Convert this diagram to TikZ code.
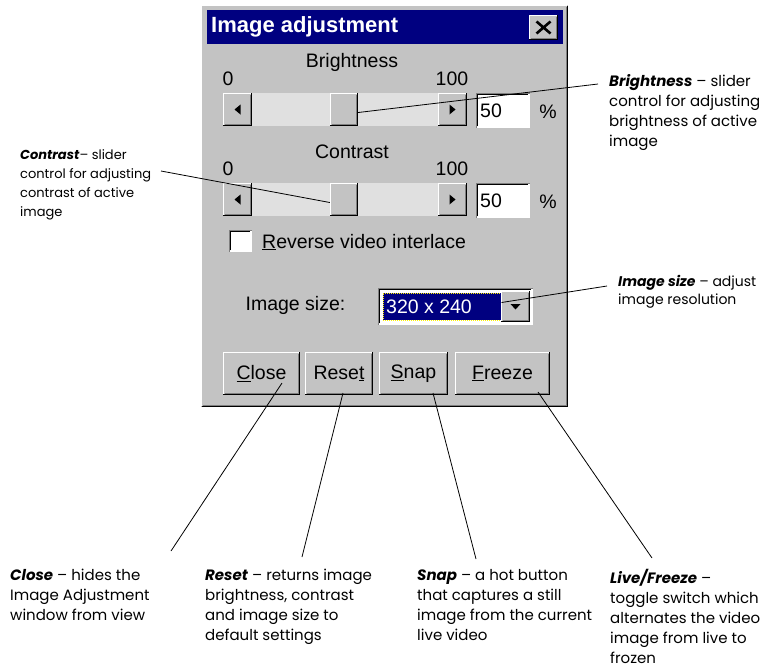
\documentclass[tikz,border=0pt]{standalone}
\usepackage{fontspec}
\setmainfont{Poppins}
\newfontfamily\dlgfont{Liberation Sans}
\usetikzlibrary{calc}

\definecolor{facegray}{HTML}{C3C3C3}
\definecolor{shadegray}{HTML}{7F7F7F}
\definecolor{trackgray}{HTML}{E0E0E0}
\definecolor{titlenavy}{HTML}{000080}

% bold italic lead-in of a callout
\newcommand\notehead[1]{\textbf{\textit{#1}}}

% 3D edges of the dialog controls
\newcommand\raisededge[1]{%
  \draw[black, line width=1.2pt] ([xshift=0.6pt, yshift=0.6pt]#1.south west) -- ([xshift=-0.6pt, yshift=0.6pt]#1.south east) -- ([xshift=-0.6pt, yshift=-0.6pt]#1.north east);
  \draw[shadegray, line width=1.2pt] ([xshift=1.8pt, yshift=1.8pt]#1.south west) -- ([xshift=-1.8pt, yshift=1.8pt]#1.south east) -- ([xshift=-1.8pt, yshift=-1.8pt]#1.north east);
  \draw[white, line width=1.2pt] ([xshift=0.6pt, yshift=1.2pt]#1.south west) -- ([xshift=0.6pt, yshift=-0.6pt]#1.north west) -- ([xshift=-1.2pt, yshift=-0.6pt]#1.north east);
}
\newcommand\sunkenedge[1]{%
  \draw[white, line width=1.2pt] ([xshift=0.6pt, yshift=0.6pt]#1.south west) -- ([xshift=-0.6pt, yshift=0.6pt]#1.south east) -- ([xshift=-0.6pt, yshift=-0.6pt]#1.north east);
  \draw[shadegray, line width=1.2pt] ([xshift=0.6pt, yshift=0.6pt]#1.south west) -- ([xshift=0.6pt, yshift=-0.6pt]#1.north west) -- ([xshift=-0.6pt, yshift=-0.6pt]#1.north east);
  \draw[black, line width=1.2pt] ([xshift=1.8pt, yshift=1.8pt]#1.south west) -- ([xshift=1.8pt, yshift=-1.8pt]#1.north west) -- ([xshift=-1.8pt, yshift=-1.8pt]#1.north east);
}

\begin{document}
\begin{tikzpicture}[x=1pt, y=-1pt,
    dlg/.style={font=\dlgfont\fontsize{19.5}{19.5}\selectfont, inner sep=0pt},
    face/.style={fill=facegray, inner sep=0pt},
    field/.style={fill=white, inner sep=0pt},
    note/.style={font=\fontsize{15}{20}\selectfont, align=left, anchor=north west, inner sep=0pt},
    smallnote/.style={note, font=\fontsize{13}{19}\selectfont},
    leader/.style={line width=0.8pt},
  ]
  \useasboundingbox (0,0) rectangle (767,670);

  % window and title bar
  \node[face, anchor=north west, minimum width=367pt, minimum height=402pt] (win) at (201,5) {};
  \raisededge{win}
  \node[fill=titlenavy, anchor=north west, minimum width=356pt, minimum height=34pt] (titlebar) at (207,10) {};
  \node[dlg, font=\dlgfont\bfseries\fontsize{22}{22}\selectfont, text=white, anchor=west] (title) at (211,27) {Image adjustment};
  \node[face, minimum width=29pt, minimum height=25pt] (xbtn) at (543.5,27.5) {};
  \raisededge{xbtn}
  \draw[line width=2.6pt] ([xshift=-7pt, yshift=6pt]xbtn.center) -- ([xshift=7pt, yshift=-6pt]xbtn.center)
    ([xshift=-7pt, yshift=-6pt]xbtn.center) -- ([xshift=7pt, yshift=6pt]xbtn.center);

  % the two sliders
  \foreach \sl/\caption/\dy in {b/Brightness/0, c/Contrast/90} {
    \node[dlg] (\sl label) at (352,62+\dy) {\caption};
    \node[dlg] (\sl min) at (228,79+\dy) {0};
    \node[dlg] (\sl max) at (452,79+\dy) {100};
    \node[fill=trackgray, minimum width=186pt, minimum height=33pt] (\sl track) at (345,109.5+\dy) {};
    \node[face, minimum width=29pt, minimum height=33pt] (\sl left) at (237.5,109.5+\dy) {};
    \node[face, minimum width=29pt, minimum height=33pt] (\sl right) at (452.5,109.5+\dy) {};
    \node[face, minimum width=28pt, minimum height=33pt] (\sl thumb) at (344,109.5+\dy) {};
    \node[field, minimum width=54pt, minimum height=35pt] (\sl value) at (503,110.5+\dy) {};
    \node[dlg, anchor=west] (\sl num) at (480,111+\dy) {50};
    \node[dlg] (\sl pct) at (548,112+\dy) {\%};
    \raisededge{\sl left}
    \raisededge{\sl right}
    \raisededge{\sl thumb}
    \sunkenedge{\sl value}
    \fill ([xshift=-3pt]\sl left.center) -- ([xshift=3pt, yshift=5pt]\sl left.center) -- ([xshift=3pt, yshift=-5pt]\sl left.center) -- cycle;
    \fill ([xshift=3pt]\sl right.center) -- ([xshift=-3pt, yshift=5pt]\sl right.center) -- ([xshift=-3pt, yshift=-5pt]\sl right.center) -- cycle;
  }

  % check box
  \node[field, minimum width=23pt, minimum height=22pt] (revbox) at (240.5,241) {};
  \sunkenedge{revbox}
  \node[dlg, anchor=west] (revlabel) at (262,242) {\underline{R}everse video interlace};

  % image size combo box
  \node[dlg] (sizelabel) at (295.5,305) {Image size:};
  \node[field, minimum width=155pt, minimum height=37pt] (sizebox) at (455.5,306.5) {};
  \sunkenedge{sizebox}
  \node[fill=titlenavy, draw=yellow, densely dotted, line width=1pt, minimum width=118pt, minimum height=27pt] (sizesel) at (442,306.5) {};
  \node[dlg, text=white, anchor=west] (sizetext) at (386,306.5) {320 x 240};
  \node[face, minimum width=29pt, minimum height=31pt] (sizedrop) at (515.5,306.5) {};
  \raisededge{sizedrop}
  \fill ([yshift=-3pt]sizedrop.center) -- ([xshift=-5pt, yshift=2.5pt]sizedrop.center) -- ([xshift=5pt, yshift=2.5pt]sizedrop.center) -- cycle;

  % push buttons
  \foreach \bt/\caption/\bx/\bw in {closebtn/{\underline{C}lose}/261.5/77, resetbtn/{Rese\underline{t}}/339/68,
      snapbtn/{\underline{S}nap}/413.5/69, freezebtn/{\underline{F}reeze}/502.5/95} {
    \node[face, dlg, minimum width=\bw pt, minimum height=43pt] (\bt) at (\bx,373.5) {\caption};
    \raisededge{\bt}
  }

  % callouts
  \node[note] (brightnote) at (609,74) {\notehead{Brightness} -- slider\\control for adjusting\\brightness of active\\image};
  \node[smallnote] (contrastnote) at (20,149) {\notehead{Contrast}-- slider\\control for adjusting\\contrast of active\\image};
  \node[note, font=\fontsize{14}{18}\selectfont] (sizenote) at (618,275) {\notehead{Image size} -- adjust\\image resolution};
  \node[note] (closenote) at (10,569) {\notehead{Close} -- hides the\\Image Adjustment\\window from view};
  \node[note] (resetnote) at (205,569) {\notehead{Reset} -- returns image\\brightness, contrast\\and image size to\\default settings};
  \node[note] (snapnote) at (417,569) {\notehead{Snap} -- a hot button\\that captures a still\\image from the current\\live video};
  \node[note] (freezenote) at (610,569) {\notehead{Live/Freeze} --\\toggle switch which\\alternates the video\\image from live to\\frozen};

  \coordinate (brightend) at (598,84);
  \coordinate (contrastend) at (161,171);
  \coordinate (sizeend) at (607,286);
  \coordinate (closeend) at (171,551);
  \coordinate (resetend) at (302,557);
  \coordinate (snapend) at (476,559);
  \coordinate (freezeend) at (652,558);

  \draw[leader] ([yshift=-3pt]bthumb.east) -- (brightend);
  \draw[leader] (contrastend) -- ([yshift=-3pt]cthumb.west);
  \draw[leader] ([yshift=4pt]sizesel.east) -- (sizeend);
  \draw[leader] ([xshift=20.5pt, yshift=-9.5pt]closebtn.center) -- (closeend);
  \draw[leader] ([xshift=4pt, yshift=-19.5pt]resetbtn.center) -- (resetend);
  \draw[leader] ([xshift=19.5pt, yshift=-19.5pt]snapbtn.center) -- (snapend);
  \draw[leader] ([xshift=35.5pt, yshift=-18.5pt]freezebtn.center) -- (freezeend);
\end{tikzpicture}
\end{document}
